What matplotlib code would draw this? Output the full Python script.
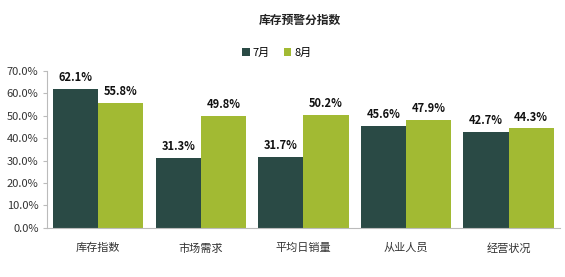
import matplotlib.pyplot as plt
import numpy as np

plt.rcParams['font.family'] = ['Noto Sans CJK SC', 'DejaVu Sans']

categories = ['库存指数', '市场需求', '平均日销量', '从业人员', '经营状况']
jul = [62.1, 31.3, 31.7, 45.6, 42.7]
aug = [55.8, 49.8, 50.2, 47.9, 44.3]
series_names = ['7月', '8月']
c_jul = '#2a4a45'
c_aug = '#a2ba33'

fig = plt.figure(figsize=(5.65, 2.77), dpi=100)
ax = fig.add_axes([0.083, 0.178, 0.908, 0.566])

x = np.arange(len(categories))
w = 0.44
b1 = ax.bar(x - w / 2, jul, w, color=c_jul, label=series_names[0])
b2 = ax.bar(x + w / 2, aug, w, color=c_aug, label=series_names[1])

for bars in (b1, b2):
    for r in bars:
        ax.text(r.get_x() + r.get_width() / 2, r.get_height() + 2.2,
                f'{r.get_height():.1f}%', ha='center', va='bottom',
                fontsize=8, fontweight='bold', color='#111111')

ax.set_xlim(-0.5, len(categories) - 0.5)
ax.set_ylim(0, 70)
ax.set_yticks(np.arange(0, 71, 10))
ax.set_yticklabels([f'{v:.1f}%' for v in np.arange(0, 71, 10)], fontsize=8, color='#333333')
ax.set_xticks(x)
ax.set_xticklabels(categories, fontsize=8, color='#333333')
ax.tick_params(axis='x', length=0, pad=11)
ax.tick_params(axis='y', length=3, color='#bbbbbb', pad=3)
for s in ['top', 'right']:
    ax.spines[s].set_visible(False)
ax.spines['left'].set_color('#bbbbbb')
ax.spines['bottom'].set_color('#bbbbbb')

fig.text(0.53, 0.925, '库存预警分指数', ha='center', va='center',
         fontsize=8.5, fontweight='bold', color='#222222')
fig.legend(handles=[b1, b2], loc='center', bbox_to_anchor=(0.49, 0.81), ncol=2,
           frameon=False, fontsize=8, handlelength=0.7, handleheight=0.7,
           handletextpad=0.3, columnspacing=1.2)

fig.savefig('out.png', dpi=100)
